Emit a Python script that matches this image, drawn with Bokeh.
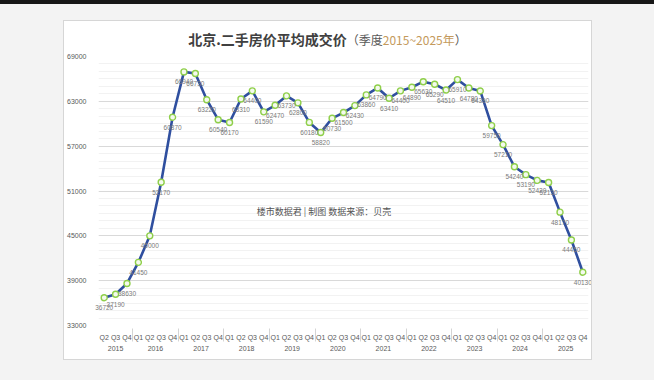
from bokeh.plotting import figure
from bokeh.models import (FactorRange, Range1d, FixedTicker, ColumnDataSource, Div,
                          NumeralTickFormatter)
from bokeh.models.css import GlobalInlineStyleSheet
from bokeh.layouts import column
from bokeh.embed import file_html
from bokeh.resources import INLINE
from bokeh.core.properties import value

# ---------------- data ----------------
years = ["2015", "2016", "2017", "2018", "2019", "2020",
         "2021", "2022", "2023", "2024", "2025"]
quarters = ["Q1", "Q2", "Q3", "Q4"]
first_quarter = ("2015", "Q2")          # series starts at 2015 Q2

price_2015 = [36720, 37190, 38630]
price_2016 = [41450, 45000, 52170, 60870]
price_2017 = [66940, 66730, 63220, 60540]
price_2018 = [60170, 63310, 64400, 61590]
price_2019 = [62470, 63730, 62800, 60180]
price_2020 = [58820, 60730, 61500, 62430]
price_2021 = [63860, 64790, 63410, 64400]
price_2022 = [64890, 65630, 65290, 64510]
price_2023 = [65910, 64780, 64390, 59750]
price_2024 = [57210, 54240, 53190, 52420]
price_2025 = [52130, 48170, 44450, 40130]

y_ticks = [33000, 39000, 45000, 51000, 57000, 63000, 69000]

title_main = "北京.二手房价平均成交价"
title_sub_a = "（季度"
title_sub_b = "2015~2025年"
title_sub_c = "）"
credit_text = "楼市数据君 | 制图    数据来源：贝壳"

# ---------------- build ----------------
factors = []
for y in years:
    for q in quarters:
        if y == first_quarter[0] and quarters.index(q) < quarters.index(first_quarter[1]):
            continue
        factors.append((y, q))

prices = (price_2015 + price_2016 + price_2017 + price_2018 + price_2019 + price_2020 +
          price_2021 + price_2022 + price_2023 + price_2024 + price_2025)

src = ColumnDataSource(dict(x=factors, y=prices, label=[str(v) for v in prices]))

NUM_FONT = "Liberation Sans"
CJK_FONT = "Noto Sans CJK SC"

p = figure(x_range=FactorRange(*factors, group_padding=0, factor_padding=0, range_padding=0),
           y_range=Range1d(y_ticks[0], y_ticks[-1]),
           width=527, height=308, output_backend="svg", toolbar_location=None,
           min_border_left=33, min_border_right=3, min_border_top=5, min_border_bottom=34,
           background_fill_color="white", border_fill_color="white",
           outline_line_color=None, margin=0)

minor = list(range(y_ticks[0], y_ticks[-1] + 1, 1000))
p.yaxis.ticker = FixedTicker(ticks=y_ticks, minor_ticks=minor)
p.yaxis.formatter = NumeralTickFormatter(format="0")
p.ygrid.grid_line_color = "#d9d9d9"
p.ygrid.minor_grid_line_color = "#f2f2f2"
p.xgrid.grid_line_color = None

p.yaxis.axis_line_color = None
p.yaxis.major_tick_line_color = None
p.yaxis.minor_tick_line_color = None
p.yaxis.major_label_text_font_size = "7px"
p.yaxis.major_label_text_color = "#595959"
p.yaxis.major_label_text_font = NUM_FONT
p.yaxis.major_label_standoff = 6

p.xaxis.axis_line_color = None
p.xaxis.major_tick_line_color = None
p.xaxis.minor_tick_line_color = None
p.xaxis.major_label_text_font_size = "7px"
p.xaxis.major_label_text_color = "#595959"
p.xaxis.major_label_text_font = NUM_FONT
p.xaxis.group_text_font_size = "7px"
p.xaxis.group_text_font_style = "normal"
p.xaxis.group_text_color = "#595959"
p.xaxis.group_text_font = NUM_FONT
p.xaxis.separator_line_color = "#d4d4d4"
p.xaxis.separator_line_width = 1
p.xaxis.major_label_standoff = 2

p.line(x="x", y="y", source=src, line_color="#2f4f9f", line_width=2.6)
p.scatter(x="x", y="y", source=src, size=6, fill_color="#f4faee",
          line_color="#8fcf4a", line_width=1.4)
p.text(x="x", y="y", text="label", source=src, y_offset=10, level="overlay",
       text_align="center", text_baseline="middle", text_font_size="6.5px",
       text_color="#7a7a7a", text_font=value(NUM_FONT))

p.text(x=[("2020", "Q2")], y=[48200], text=[credit_text], x_offset=-5,
       text_align="center", text_baseline="middle", text_font_size="9px",
       text_color="#555555", text_font=value(CJK_FONT))

title_html = (
    '<div style="width:527px;text-align:center;padding-top:10px;white-space:nowrap;'
    'font-family:\'Noto Sans CJK SC\';line-height:16px;">'
    f'<span style="font-size:14px;font-weight:bold;color:#404040;">{title_main}</span>'
    f'<span style="font-size:12px;color:#595959;">{title_sub_a}</span>'
    f'<span style="font-size:12px;color:#c49a5c;">{title_sub_b}</span>'
    f'<span style="font-size:12px;color:#595959;">{title_sub_c}</span></div>'
)
title_div = Div(text=title_html, width=527, height=30, margin=0)

card = column(title_div, p, margin=(13, 0, 0, 56), spacing=0,
              styles={"background-color": "white", "outline": "1px solid #d6d6d6"})

page_css = GlobalInlineStyleSheet(css=(
    "html{background:#f3f3f3;} "
    "body{background:#f3f3f3;margin:0;padding:4px 8px 8px 8px;border-top:4px solid #161616;}"
))
outer = column(card, width=638, height=364, spacing=0,
               styles={"background-color": "#f3f3f3"}, stylesheets=[page_css])

open("out.html", "w").write(file_html(outer, INLINE))
